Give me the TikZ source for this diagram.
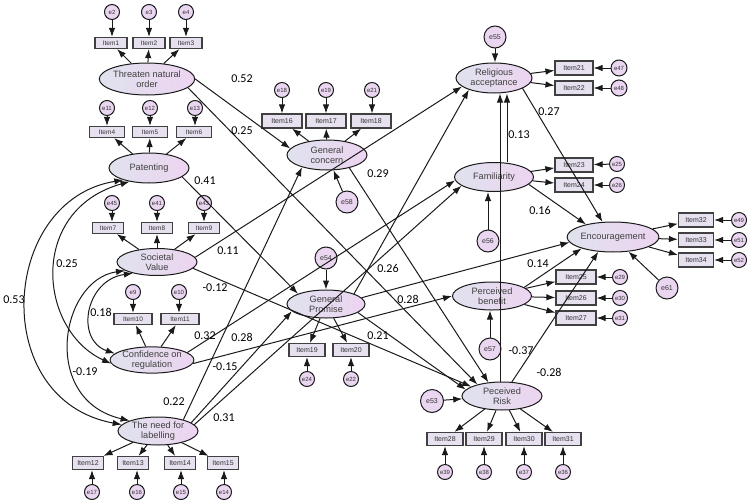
\documentclass[tikz,border=0pt]{standalone}
\usepackage{fontspec}
\setmainfont{Liberation Sans}
\newfontfamily\coeffont{Carlito}
\usetikzlibrary{shapes.geometric,arrows.meta}
\definecolor{latL}{HTML}{E0E2EE}
\definecolor{latR}{HTML}{ECD4F0}
\definecolor{itemF}{HTML}{E6E0EF}
\definecolor{errF}{HTML}{EAD6F0}
\definecolor{lineC}{HTML}{1A1A1A}
\begin{document}
\begin{tikzpicture}[x=1pt,y=-1pt]
\tikzset{
 lat/.style={ellipse, draw=lineC, line width=1pt, left color=latL, right color=latR, minimum width=80pt, minimum height=29pt, inner sep=0pt, align=center, font=\fontsize{9.2}{10}\selectfont, text=black!75},
 item/.style={rectangle, draw=black!75, line width=1.2pt, fill=itemF, minimum width=36pt, minimum height=13pt, inner sep=0pt, font=\fontsize{7}{7}\selectfont, text=black!80},
 itemS/.style={item, minimum width=32pt, minimum height=11pt, font=\fontsize{6.5}{7}\selectfont},
 err/.style={circle, draw=lineC, line width=1pt, fill=errF, minimum size=15pt, inner sep=0pt, font=\fontsize{6}{6}\selectfont, text=black!80},
 errb/.style={err, minimum size=22pt, font=\fontsize{7}{7}\selectfont},
 coef/.style={font=\coeffont\fontsize{12}{12}\selectfont, inner sep=0pt, text=black},
 pth/.style={-{Latex[length=9pt,width=6.5pt]}, line width=1pt, draw=lineC},
 cov/.style={{Latex[length=9pt,width=6.5pt]}-{Latex[length=9pt,width=6.5pt]}, line width=1pt, draw=lineC}
}
\useasboundingbox (0,0) rectangle (751,503);

% ---------------- left column ----------------
\node[err] (e2) at (112,12) {e2};
\node[err] (e3) at (149,12) {e3};
\node[err] (e4) at (186,12) {e4};
\node[itemS] (Item1) at (111,43) {Item1};
\node[itemS] (Item2) at (149,43) {Item2};
\node[itemS] (Item3) at (186,43) {Item3};
\node[lat, minimum width=80pt, minimum height=32pt] (TNO) at (147,79) {Threaten natural\\order};

\node[err] (e11) at (107,108) {e11};
\node[err] (e12) at (150,108) {e12};
\node[err] (e13) at (195,108) {e13};
\node[itemS, minimum width=35pt] (Item4) at (107,132) {Item4};
\node[itemS, minimum width=35pt] (Item5) at (150,132) {Item5};
\node[itemS, minimum width=35pt] (Item6) at (194,132) {Item6};
\node[lat, minimum height=30pt] (Pat) at (149,168) {Patenting};

\node[err] (e45) at (112,203) {e45};
\node[err] (e41) at (157,203) {e41};
\node[err] (e43) at (204,203) {e43};
\node[itemS, minimum width=31pt] (Item7) at (108,228) {Item7};
\node[itemS, minimum width=31pt] (Item8) at (157,228) {Item8};
\node[itemS, minimum width=31pt] (Item9) at (204,228) {Item9};
\node[lat, minimum height=27pt] (SV) at (157,262) {Societal\\Value};

\node[err] (e9) at (133,292) {e9};
\node[err] (e10) at (179,292) {e10};
\node[itemS, minimum width=38pt] (Item10) at (133,319) {Item10};
\node[itemS, minimum width=38pt] (Item11) at (180,319) {Item11};
\node[lat, minimum width=74pt, minimum height=26pt] (Conf) at (152,360) {Confidence on\\regulation};

\node[lat, minimum height=28pt] (Lab) at (158,431) {The need for\\labelling};
\node[item, minimum width=31pt] (Item12) at (88,463) {Item12};
\node[item, minimum width=31pt] (Item13) at (133,463) {Item13};
\node[item, minimum width=31pt] (Item14) at (180,463) {Item14};
\node[item, minimum width=31pt] (Item15) at (223,463) {Item15};
\node[err] (e17) at (92,492) {e17};
\node[err] (e16) at (137,492) {e16};
\node[err] (e15) at (181,492) {e15};
\node[err] (e14) at (224,492) {e14};

% ---------------- middle column ----------------
\node[err] (e18) at (282,90) {e18};
\node[err] (e19) at (326,90) {e19};
\node[err] (e21) at (372,90) {e21};
\node[item, minimum width=40pt, minimum height=14pt] (Item16) at (282,121) {Item16};
\node[item, minimum width=40pt, minimum height=14pt] (Item17) at (326,121) {Item17};
\node[item, minimum width=40pt, minimum height=14pt] (Item18) at (371,121) {Item18};
\node[lat, minimum height=30pt] (GC) at (327,155) {General\\concern};
\node[errb] (e58) at (347,202) {e58};

\node[errb] (e54) at (326,258) {e54};
\node[lat, minimum width=78pt, minimum height=28pt] (GP) at (326,304) {General\\Promise};
\node[item] (Item19) at (307,350) {Item19};
\node[item] (Item20) at (351,350) {Item20};
\node[err] (e24) at (307,379) {e24};
\node[err] (e22) at (351,379) {e22};

% ---------------- right-middle column ----------------
\node[errb] (e55) at (495,37) {e55};
\node[lat, minimum width=76pt, minimum height=30pt] (Rel) at (494,78) {Religious\\acceptance};
\node[item, minimum width=38pt, minimum height=14pt] (Item21) at (574,68) {Item21};
\node[item, minimum width=38pt, minimum height=14pt] (Item22) at (574,88) {Item22};
\node[err, minimum size=16pt] (e47) at (619,68) {e47};
\node[err, minimum size=16pt] (e48) at (619,88) {e48};

\node[lat, minimum width=79pt, minimum height=29pt] (Fam) at (494,177) {Familiarity};
\node[item, minimum width=38pt, minimum height=14pt] (Item23) at (574,165) {Item23};
\node[item, minimum width=38pt, minimum height=14pt] (Item24) at (574,185) {Item24};
\node[err] (e25) at (617,164) {e25};
\node[err] (e26) at (617,185) {e26};
\node[errb] (e56) at (488,241) {e56};

\node[lat, minimum width=79pt, minimum height=28pt] (PB) at (492,296) {Perceived\\benefit};
\node[item, minimum width=40pt, minimum height=14pt] (Item25) at (576,277) {Item25};
\node[item, minimum width=40pt, minimum height=14pt] (Item26) at (576,298) {Item26};
\node[item, minimum width=40pt, minimum height=14pt] (Item27) at (576,318) {Item27};
\node[err] (e29) at (620,277) {e29};
\node[err] (e30) at (620,298) {e30};
\node[err] (e31) at (620,318) {e31};
\node[errb] (e57) at (490,349) {e57};

\node[lat, minimum width=80pt, minimum height=28pt] (PR) at (502,396) {Peceived\\Risk};
\node[errb, minimum size=23pt] (e53) at (432,401) {e53};
\node[item] (Item28) at (445,439) {Item28};
\node[item] (Item29) at (484,439) {Item29};
\node[item] (Item30) at (524,439) {Item30};
\node[item] (Item31) at (563,439) {Item31};
\node[err] (e39) at (445,472) {e39};
\node[err] (e38) at (484,472) {e38};
\node[err] (e37) at (524,472) {e37};
\node[err] (e36) at (563,472) {e36};

% ---------------- right column ----------------
\node[lat, minimum width=80pt, minimum height=30pt] (Enc) at (613,237) {Encouragement};
\node[item, minimum width=35pt, minimum height=14pt] (Item32) at (696,220) {Item32};
\node[item, minimum width=35pt, minimum height=14pt] (Item33) at (696,240) {Item33};
\node[item, minimum width=35pt, minimum height=14pt] (Item34) at (696,260) {Item34};
\node[err] (e49) at (739,220) {e49};
\node[err] (e51) at (739,240) {e51};
\node[err] (e52) at (739,260) {e52};
\node[errb] (e61) at (667,288) {e61};

% ---------------- measurement paths ----------------
\foreach \a/\b in {TNO/Item1,TNO/Item2,TNO/Item3,Pat/Item4,Pat/Item5,Pat/Item6,SV/Item7,SV/Item8,SV/Item9,Conf/Item10,Conf/Item11,Lab/Item12,Lab/Item13,Lab/Item14,Lab/Item15,GC/Item16,GC/Item17,GC/Item18,GP/Item19,GP/Item20,Rel/Item21,Rel/Item22,Fam/Item23,Fam/Item24,PB/Item25,PB/Item26,PB/Item27,PR/Item28,PR/Item29,PR/Item30,PR/Item31,Enc/Item32,Enc/Item33,Enc/Item34}
  \draw[pth] (\a) -- (\b);
\foreach \a/\b in {e2/Item1,e3/Item2,e4/Item3,e11/Item4,e12/Item5,e13/Item6,e45/Item7,e41/Item8,e43/Item9,e9/Item10,e10/Item11,e18/Item16,e19/Item17,e21/Item18}
  \draw[pth] (\a) -- (\a |- \b.north);
\foreach \a/\b in {e17/Item12,e16/Item13,e15/Item14,e14/Item15,e24/Item19,e22/Item20,e39/Item28,e38/Item29,e37/Item30,e36/Item31}
  \draw[pth] (\a) -- (\a |- \b.south);
\foreach \a/\b in {e47/Item21,e48/Item22,e25/Item23,e26/Item24,e29/Item25,e30/Item26,e31/Item27,e49/Item32,e51/Item33,e52/Item34}
  \draw[pth] (\a) -- (\b);

% residuals of latent variables
\draw[pth] (e55) -- (e55 |- Rel.north);
\draw[pth] (e58) -- (GC);
\draw[pth] (e54) -- (e54 |- GP.north);
\draw[pth] (e56) -- (e56 |- Fam.south);
\draw[pth] (e57) -- (e57 |- PB.south);
\draw[pth] (e53) -- (PR);
\draw[pth] (e61) -- (Enc);

% ---------------- structural paths ----------------
\draw[pth] (TNO.east) -- (GC.170);
\draw[pth] (TNO.-12) -- (PR.155);
\draw[pth] (Pat.-15) -- (GP.160);
\draw[pth] (SV.7) -- (Rel.195);
\draw[pth] (SV.-10) -- (PR.163);
\draw[pth] (Conf.12) -- (Fam.185);
\draw[pth] (Conf.-5) -- (PB.west);
\draw[pth] (Lab.24) -- (GC.206);
\draw[pth] (Lab.14) -- (GP.192);
\draw[pth] (Lab.10) -- (Fam.195);
\draw[pth] (GC.-30) -- (PR.135);
\draw[pth] (GP.20) -- (Rel.205);
\draw[pth] (GP.10) -- (Enc.187);
\draw[pth] (GP.-15) -- (PR.170);
\draw[pth] (Rel.-20) -- (Enc.125);
\draw[pth] ([xshift=13pt]Fam.north) -- ([xshift=13pt]Rel.south);
\draw[pth] ([xshift=-2pt]PR.north) -- ([xshift=6pt]Rel.south);
\draw[pth] (Fam.-12) -- (Enc.155);
\draw[pth] (PB.15) -- (Enc.200);
\draw[pth] (PR.55) -- (Enc.225);

% ---------------- covariances ----------------
\draw[cov] (Pat.205) .. controls (0,200) and (-12,400) .. (Lab.170);
\draw[cov] (Pat.215) .. controls (28,210) and (38,330) .. (Conf.185);
\draw[cov] (SV.195) .. controls (60,280) and (40,400) .. (Lab.160);
\draw[cov] (SV.205) .. controls (85,280) and (75,340) .. (Conf.170);

% ---------------- coefficients ----------------
\node[coef] (c1) at (242,79) {0.52};
\node[coef] (c2) at (242,131) {0.25};
\node[coef] (c3) at (205,181) {0.41};
\node[coef] (c4) at (228,251) {0.11};
\node[coef] (c5) at (215,288) {-0.12};
\node[coef] (c6) at (67,264) {0.25};
\node[coef] (c7) at (14,300) {0.53};
\node[coef] (c8) at (101,312) {0.18};
\node[coef] (c9) at (205,336) {0.32};
\node[coef] (c10) at (242,337) {0.28};
\node[coef] (c11) at (85,372) {-0.19};
\node[coef] (c12) at (225,367) {-0.15};
\node[coef] (c13) at (174,402) {0.22};
\node[coef] (c14) at (224,418) {0.31};
\node[coef] (c15) at (378,174) {0.29};
\node[coef] (c16) at (388,268) {0.26};
\node[coef] (c17) at (408,299) {0.28};
\node[coef] (c18) at (378,336) {0.21};
\node[coef] (c19) at (549,112) {0.27};
\node[coef] (c20) at (519,135) {0.13};
\node[coef] (c21) at (540,210) {0.16};
\node[coef] (c22) at (538,264) {0.14};
\node[coef] (c23) at (521,351) {-0.37};
\node[coef] (c24) at (549,372) {-0.28};
\end{tikzpicture}
\end{document}
